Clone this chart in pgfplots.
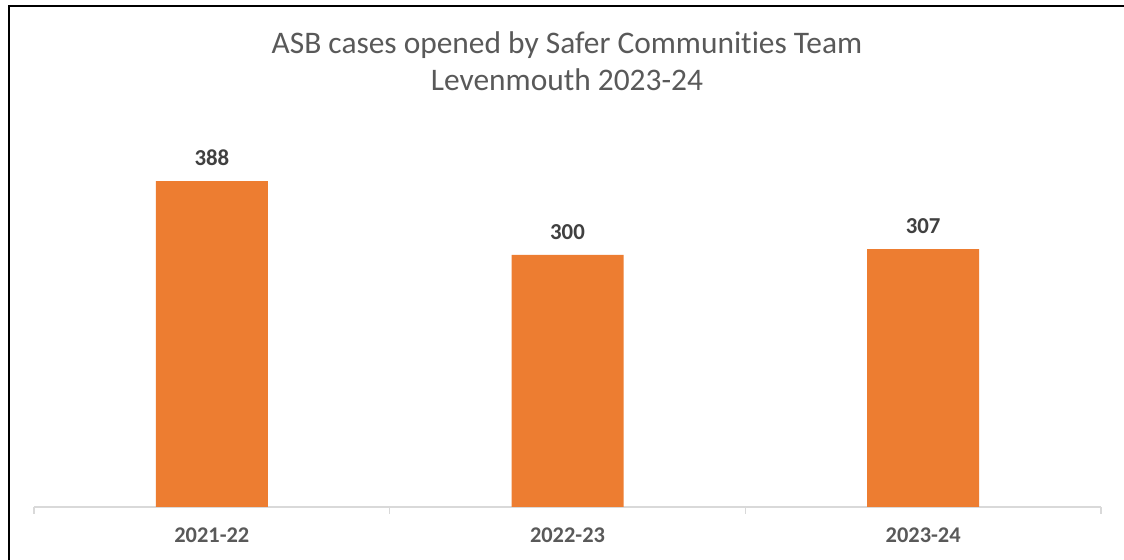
\documentclass[border=0pt]{standalone}
\usepackage{pgfplots}
\pgfplotsset{compat=1.18}
\usepackage{fontspec}
\setmainfont{Carlito}[Ligatures=NoCommon]
\definecolor{barorange}{HTML}{ED7D31}
\definecolor{txtgray}{HTML}{595959}
\definecolor{lblgray}{HTML}{404040}
\definecolor{axgray}{HTML}{D9D9D9}
\begin{document}
\begin{tikzpicture}
\useasboundingbox (0,0) rectangle (562pt,280pt);
\fill[white] (0,0) rectangle (562pt,280pt);
\draw[black, line width=1.2pt] (4.5pt,0) -- (4.5pt,277pt) -- (562pt,277pt);
\node[anchor=base, text=txtgray, font=\fontsize{15.7}{18}\selectfont] at (283.5pt,253pt) {ASB cases opened by Safer Communities Team};
\node[anchor=base, text=txtgray, font=\fontsize{15.7}{18}\selectfont] at (283.5pt,234.7pt) {Levenmouth 2023-24};
\begin{axis}[
  at={(17pt,26.5pt)}, anchor=south west,
  scale only axis, width=533.5pt, height=189pt,
  xmin=-0.5, xmax=2.5, ymin=0, ymax=450,
  axis y line=none,
  axis x line*=bottom,
  x axis line style={axgray, line width=0.8pt, -},
  xtick={0,1,2},
  xticklabels={2021-22,2022-23,2023-24},
  major tick length=0pt,
  extra x ticks={-0.5,0.5,1.5,2.5},
  extra x tick labels={},
  extra x tick style={tick align=outside, major tick length=3.5pt, tick style={axgray, line width=0.8pt}},
  xticklabel style={anchor=base, yshift=-17.8pt, text=txtgray, font=\fontsize{11.2}{13}\selectfont\bfseries},
  /pgf/number format/assume math mode=true,
  clip=false,
  nodes near coords,
  every node near coord/.append style={anchor=base, yshift=7.6pt, text=lblgray, font=\fontsize{11.4}{13}\selectfont\bfseries},
]
\addplot[ybar, bar width=56pt, fill=barorange, draw=none] coordinates {(0,388) (1,300) (2,307)};
\end{axis}
\end{tikzpicture}
\end{document}
